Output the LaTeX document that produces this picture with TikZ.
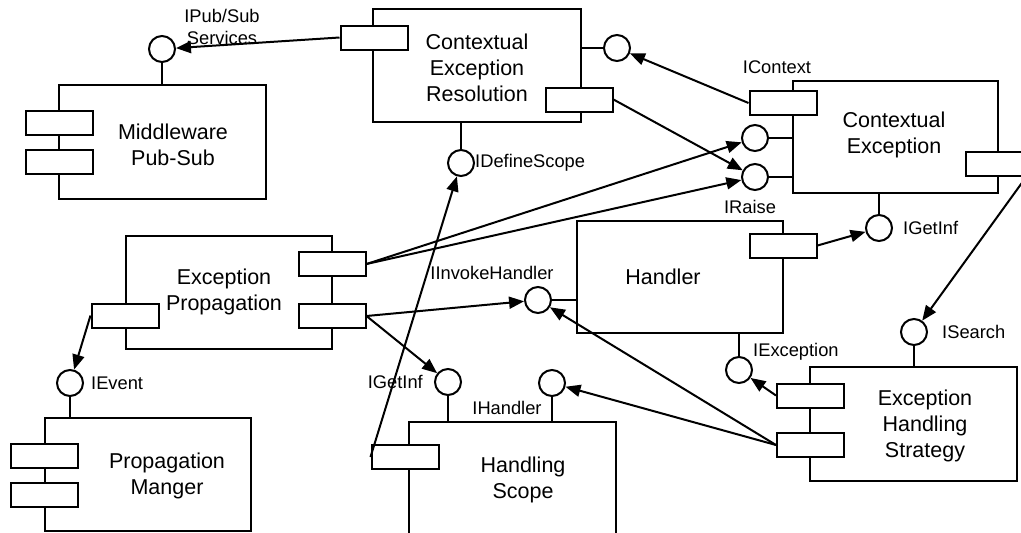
\documentclass[tikz,border=0pt]{standalone}
\usepackage{fontspec}
\setmainfont{Liberation Sans}
\usetikzlibrary{arrows.meta,calc}

\tikzset{
  comp/.style={draw, line width=2pt, fill=white, inner sep=0pt},
  port/.style={draw, line width=2pt, fill=white, minimum width=67pt,
               minimum height=24pt, inner sep=0pt},
  iface/.style={draw, circle, line width=2pt, fill=white,
                minimum size=26pt, inner sep=0pt},
  ctext/.style={align=center, inner sep=0pt,
                font=\fontsize{21.5}{26}\selectfont},
  ltext/.style={align=center, inner sep=0pt,
                font=\fontsize{18.3}{22}\selectfont},
  stem/.style={line width=2pt},
  arr/.style={line width=2pt, -{Triangle[length=15pt,width=12pt]}}
}

\begin{document}
\begin{tikzpicture}[x=1pt,y=-1pt]
\useasboundingbox (0,0) rectangle (1021,533);
\clip (0,0) rectangle (1021,533);

% ---- components ----
\node[comp, minimum width=207pt, minimum height=114pt] (mw)  at (162.5,142) {};
\node[comp, minimum width=208pt, minimum height=113pt] (cer) at (477,65.5) {};
\node[comp, minimum width=205pt, minimum height=112pt] (ce)  at (895.5,137) {};
\node[comp, minimum width=206pt, minimum height=113pt] (ep)  at (229,292.5) {};
\node[comp, minimum width=206pt, minimum height=112pt] (hd)  at (680,277) {};
\node[comp, minimum width=206pt, minimum height=113pt] (pm)  at (148,474.5) {};
\node[comp, minimum width=207pt, minimum height=138pt] (hs)  at (512.5,491) {};
\node[comp, minimum width=207pt, minimum height=114pt] (ehs) at (913.5,424) {};

% ---- component names ----
\node[ctext] (mwt)  at (173,145) {Middleware\\Pub-Sub};
\node[ctext] (cert) at (477,68)  {Contextual\\Exception\\Resolution};
\node[ctext] (cet)  at (894,135) {Contextual\\Exception};
\node[ctext] (ept)  at (224,292) {Exception\\Propagation};
\node[ctext] (hdt)  at (663,277) {Handler};
\node[ctext] (pmt)  at (167,476) {Propagation\\Manger};
\node[ctext] (hst)  at (523,480) {Handling\\Scope};
\node[ctext] (ehst) at (925,426) {Exception\\Handling\\Strategy};

% ---- ports ----
\node[port] (mwp1)  at (59,122.5) {};
\node[port] (mwp2)  at (59,162) {};
\node[port] (cerp1) at (374,37.5) {};
\node[port] (cerp2) at (579,99.5) {};
\node[port] (cep1)  at (783,103) {};
\node[port] (cep2)  at (999,163.5) {};
\node[port] (hdp)   at (783,245.5) {};
\node[port] (epp1)  at (332,264) {};
\node[port] (epp2)  at (332,316) {};
\node[port] (epp3)  at (125,315.5) {};
\node[port] (pmp1)  at (44.5,455.5) {};
\node[port] (pmp2)  at (44.5,494.5) {};
\node[port] (hsp)   at (405,457) {};
\node[port] (ehsp1) at (810.5,395.5) {};
\node[port] (ehsp2) at (810.5,445) {};

% ---- provided interfaces ----
\node[iface] (ipub)     at (162,49) {};
\node[iface] (cerR)     at (617,48) {};
\node[iface] (idef)     at (461,163) {};
\node[iface] (ceA)      at (755,138) {};
\node[iface] (ceB)      at (755,177) {};
\node[iface] (igetCE)   at (879,228) {};
\node[iface] (ievent)   at (70,383) {};
\node[iface] (igetHS)   at (448,382) {};
\node[iface] (ihandler) at (552,383) {};
\node[iface] (iinvoke)  at (538,300) {};
\node[iface] (iexc)     at (739,370) {};
\node[iface] (isearch)  at (914,332) {};

\draw[stem] (ipub.south) -- (ipub.south |- mw.north);
\draw[stem] (cerR.west) -- (cerR.west -| cer.east);
\draw[stem] (idef.north) -- (idef.north |- cer.south);
\draw[stem] (ceA.east) -- (ceA.east -| ce.west);
\draw[stem] (ceB.east) -- (ceB.east -| ce.west);
\draw[stem] (igetCE.north) -- (igetCE.north |- ce.south);
\draw[stem] (ievent.south) -- (ievent.south |- pm.north);
\draw[stem] (igetHS.south) -- (igetHS.south |- hs.north);
\draw[stem] (ihandler.south) -- (ihandler.south |- hs.north);
\draw[stem] (iinvoke.east) -- (iinvoke.east -| hd.west);
\draw[stem] (iexc.north) -- (iexc.north |- hd.south);
\draw[stem] (isearch.south) -- (isearch.south |- ehs.north);

% ---- interface names ----
\node[ltext] (lpub)  at (222,27) {IPub/Sub\\Services};
\node[ltext] (lctx)  at (777,67) {IContext};
\node[ltext, anchor=west] (ldef) at (475,163) {IDefineScope};
\node[ltext] (lraise) at (750,207) {IRaise};
\node[ltext, anchor=west] (lgetce) at (903,228) {IGetInf};
\node[ltext] (linv)  at (492,273) {IInvokeHandler};
\node[ltext, anchor=west] (lev) at (91,383) {IEvent};
\node[ltext, anchor=east] (lgeths) at (423,382) {IGetInf};
\node[ltext] (lhand) at (507,408) {IHandler};
\node[ltext, anchor=west] (lexc) at (753,352) {IException};
\node[ltext, anchor=west] (lsrch) at (942,332) {ISearch};

% ---- required interfaces ----
\coordinate (cep2out) at ($(cep2.south east)+(-7,0)$);
\draw[arr] (cerp1.west) -- (ipub);
\draw[arr] (cep1.west) -- (cerR);
\draw[arr] (cerp2.east) -- (ceB);
\draw[arr] (epp1.east) -- (ceA);
\draw[arr] (epp1.east) -- (ceB);
\draw[arr] (hdp.east) -- (igetCE);
\draw[arr] (cep2out) -- (isearch);
\draw[arr] (epp3.west) -- (ievent);
\draw[arr] (epp2.east) -- (iinvoke);
\draw[arr] (epp2.east) -- (igetHS);
\draw[arr] (hsp.west) -- (idef);
\draw[arr] (ehsp1.west) -- (iexc);
\draw[arr] (ehsp2.west) -- (iinvoke);
\draw[arr] (ehsp2.west) -- (ihandler);
\end{tikzpicture}
\end{document}
